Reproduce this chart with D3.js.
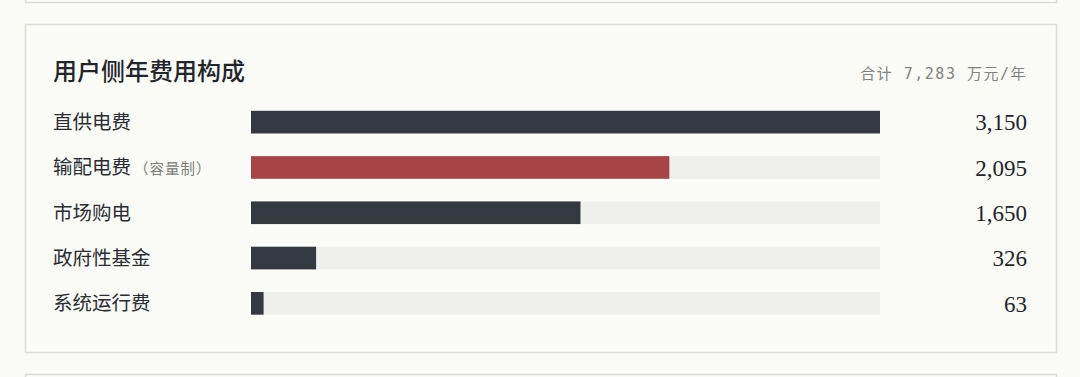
<!DOCTYPE html>
<html>
<head>
<meta charset="utf-8">
<script src="https://cdn.jsdelivr.net/npm/d3@7"></script>
<style>
  html, body { margin: 0; padding: 0; background: #fafaf6; }
  #chart-area { width: 1080px; height: 377px; }
</style>
</head>
<body>
<div id="chart-area"></div>
<script>
// data
var categories = ["直供电费", "输配电费", "市场购电", "政府性基金", "系统运行费"];
var notes = ["", "（容量制）", "", "", ""];
var values = [3150, 2095, 1650, 326, 63];
var highlight = [false, true, false, false, false];
var totalLabel = "合计 7,283 万元/年";
var title = "用户侧年费用构成";

var W = 1080, H = 377;
var svg = d3.select("#chart-area")
	.append("svg")
		.attr("width", W)
		.attr("height", H);

svg.append("rect").attr("width", W).attr("height", H).attr("fill", "#fafaf6");

	// cards (previous, current, next)
var cardStroke = "#d9ddd5";
svg.append("rect")
	.attr("x", 25.5).attr("y", -40.5).attr("width", 1031).attr("height", 43)
	.attr("fill", "#fbfbf8").attr("stroke", cardStroke).attr("stroke-width", 1.5);
svg.append("rect")
	.attr("x", 25.5).attr("y", 24.5).attr("width", 1031).attr("height", 328)
	.attr("fill", "#fbfbf8").attr("stroke", cardStroke).attr("stroke-width", 1.5);
svg.append("rect")
	.attr("x", 25.5).attr("y", 374.5).attr("width", 1031).attr("height", 40)
	.attr("fill", "#fbfbf8").attr("stroke", cardStroke).attr("stroke-width", 1.5);

	// title
svg.append("text")
	.attr("x", 53).attr("y", 80)
	.attr("font-family", "'Noto Sans CJK SC', sans-serif")
	.attr("font-size", "24px")
	.attr("font-weight", 500)
	.attr("fill", "#22252b")
	.text(title);

svg.append("text")
	.attr("x", 1027).attr("y", 79)
	.attr("text-anchor", "end")
	.attr("font-family", "'DejaVu Sans Mono', 'Noto Sans CJK SC', monospace")
	.attr("font-size", "15px")
	.attr("letter-spacing", "1.5px")
	.attr("fill", "#80837f")
	.attr("xml:space", "preserve")
	.text(totalLabel);

	// scales
var x = d3.scaleLinear()
	.domain([0, d3.max(values)])
	.range([251, 880]);

var y = d3.scaleBand()
	.domain(categories)
	.range([99.5, 326])
	.paddingInner(0.5)
	.paddingOuter(0.25);

var rows = svg.selectAll("g.row")
	.data(categories)
	.enter().append("g")
		.attr("class", "row");

	// track
rows.append("rect")
	.attr("x", x(0))
	.attr("y", function(d){ return y(d); })
	.attr("width", x.range()[1] - x(0))
	.attr("height", y.bandwidth())
	.attr("fill", "#efefeb");

	// bars
rows.append("rect")
	.attr("x", x(0))
	.attr("y", function(d){ return y(d); })
	.attr("width", function(d, i){ return x(values[i]) - x(0); })
	.attr("height", y.bandwidth())
	.attr("fill", function(d, i){ return highlight[i] ? "#a84446" : "#343840"; });

	// labels
var lab = rows.append("text")
	.attr("x", 53)
	.attr("y", function(d){ return y(d) + y.bandwidth() / 2; })
	.attr("dy", "0.36em")
	.attr("font-family", "'Noto Sans CJK SC', sans-serif")
	.attr("font-size", "19.5px")
	.attr("fill", "#2a2d33")
	.text(function(d){ return d; });
lab.append("tspan")
	.attr("dx", 3)
	.attr("font-size", "14.5px")
	.attr("letter-spacing", "1px")
	.attr("fill", "#7b7e7a")
	.text(function(d, i){ return notes[i]; });

	// values
rows.append("text")
	.attr("x", 1027)
	.attr("y", function(d){ return y(d) + y.bandwidth() / 2; })
	.attr("dy", "0.36em")
	.attr("text-anchor", "end")
	.attr("font-family", "'Liberation Serif', 'DejaVu Serif', serif")
	.attr("font-size", "23px")
	.attr("fill", "#22252b")
	.text(function(d, i){ return d3.format(",")(values[i]); });
</script>
</body>
</html>
